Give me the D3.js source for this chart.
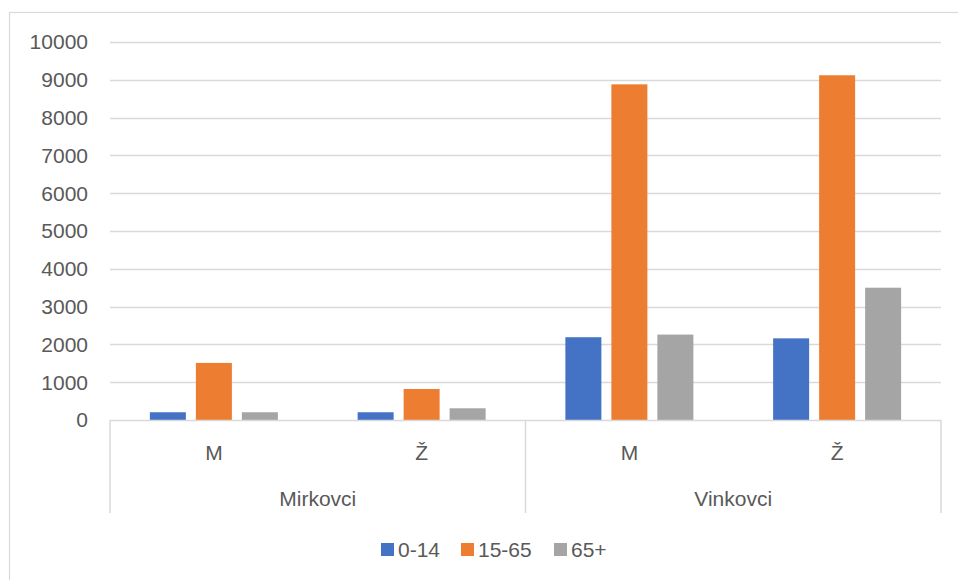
<!DOCTYPE html>
<html>
<head>
<meta charset="utf-8">
<script src="https://cdn.jsdelivr.net/npm/d3@7"></script>
<style>
  html, body { margin: 0; padding: 0; background: #fff; }
  svg text { font-family: "Liberation Sans", Arial, sans-serif; fill: #595959; }
</style>
</head>
<body>
<svg id="chart" width="958" height="580"></svg>
<script>
// Population by age group, sex and settlement
const towns = ["Mirkovci", "Vinkovci"];
const sexes = ["M", "Ž"];
const seriesNames = ["0-14", "15-65", "65+"];
const seriesColors = ["#4472C4", "#ED7D31", "#A5A5A5"];
// values per category (Mirkovci M, Mirkovci Ž, Vinkovci M, Vinkovci Ž)
const age0to14 = [205, 205, 2190, 2160];
const age15to65 = [1510, 820, 8880, 9120];
const age65plus = [205, 310, 2260, 3500];
const yTicks = [0, 1000, 2000, 3000, 4000, 5000, 6000, 7000, 8000, 9000, 10000];

const seriesValues = [age0to14, age15to65, age65plus];
const categories = [];
towns.forEach(t => sexes.forEach(s => categories.push({ key: t + "|" + s, town: t, sex: s })));

const svg = d3.select("#chart");
const plotLeft = 110, plotRight = 941, plotTop = 42, plotBottom = 420;
const fontSize = "21px";

// chart frame (runs off the right and bottom edges)
svg.append("rect")
  .attr("x", 9.5).attr("y", 12.5).attr("width", 1000).attr("height", 1000)
  .attr("fill", "#fff").attr("stroke", "#D9D9D9").attr("stroke-width", 1.2);

const y = d3.scaleLinear().domain([0, 10000]).range([plotBottom, plotTop]);
const x0 = d3.scaleBand().domain(categories.map(c => c.key)).range([plotLeft, plotRight]).padding(0);
const groupW = 128;
const x1 = d3.scaleBand().domain(seriesNames)
  .range([(x0.bandwidth() - groupW) / 2, (x0.bandwidth() + groupW) / 2])
  .paddingInner(10 / 46).paddingOuter(0);

// gridlines
svg.append("g").selectAll("line").data(yTicks.filter(v => v > 0)).join("line")
  .attr("x1", plotLeft).attr("x2", plotRight)
  .attr("y1", d => Math.round(y(d)) + 0.5).attr("y2", d => Math.round(y(d)) + 0.5)
  .attr("stroke", "#D9D9D9").attr("stroke-width", 1.5);

// y tick labels
svg.append("g").selectAll("text").data(yTicks).join("text")
  .attr("x", 88).attr("y", d => y(d))
  .attr("dy", "0.35em").attr("text-anchor", "end")
  .style("font-size", fontSize)
  .text(d => d);

// bars
const groups = svg.append("g").selectAll("g").data(categories).join("g")
  .attr("transform", c => `translate(${x0(c.key)},0)`);
groups.selectAll("rect")
  .data((c, ci) => seriesNames.map((s, si) => ({ s, si, v: seriesValues[si][ci] })))
  .join("rect")
  .attr("x", d => x1(d.s))
  .attr("width", x1.bandwidth())
  .attr("y", d => y(d.v))
  .attr("height", d => y(0) - y(d.v))
  .attr("fill", d => seriesColors[d.si]);

// category axis: baseline and group separators
const axis = svg.append("g").attr("stroke", "#D9D9D9").attr("stroke-width", 1.5);
axis.append("line").attr("x1", plotLeft).attr("x2", plotRight).attr("y1", plotBottom + 0.5).attr("y2", plotBottom + 0.5);
const sepX = [plotLeft, x0(towns[1] + "|" + sexes[0]), plotRight];
axis.selectAll("line.sep").data(sepX).join("line").attr("class", "sep")
  .attr("x1", d => d).attr("x2", d => d)
  .attr("y1", plotBottom).attr("y2", 513);

// sex labels
svg.append("g").selectAll("text").data(categories).join("text")
  .attr("x", c => x0(c.key) + x0.bandwidth() / 2)
  .attr("y", 453).attr("dy", "0.35em").attr("text-anchor", "middle")
  .style("font-size", fontSize)
  .text(c => c.sex);

// town labels
svg.append("g").selectAll("text").data(towns).join("text")
  .attr("x", t => x0(t + "|" + sexes[0]) + x0.bandwidth())
  .attr("y", 498.5).attr("dy", "0.35em").attr("text-anchor", "middle")
  .style("font-size", fontSize)
  .text(t => t);

// legend
const legendX = [381, 461, 554];
const legend = svg.append("g").selectAll("g").data(seriesNames).join("g")
  .attr("transform", (d, i) => `translate(${legendX[i]},550)`);
legend.append("rect").attr("x", 0).attr("y", -7).attr("width", 13).attr("height", 13)
  .attr("fill", (d, i) => seriesColors[i]);
legend.append("text").attr("x", 17).attr("y", 0).attr("dy", "0.35em")
  .style("font-size", fontSize)
  .text(d => d);
</script>
</body>
</html>
